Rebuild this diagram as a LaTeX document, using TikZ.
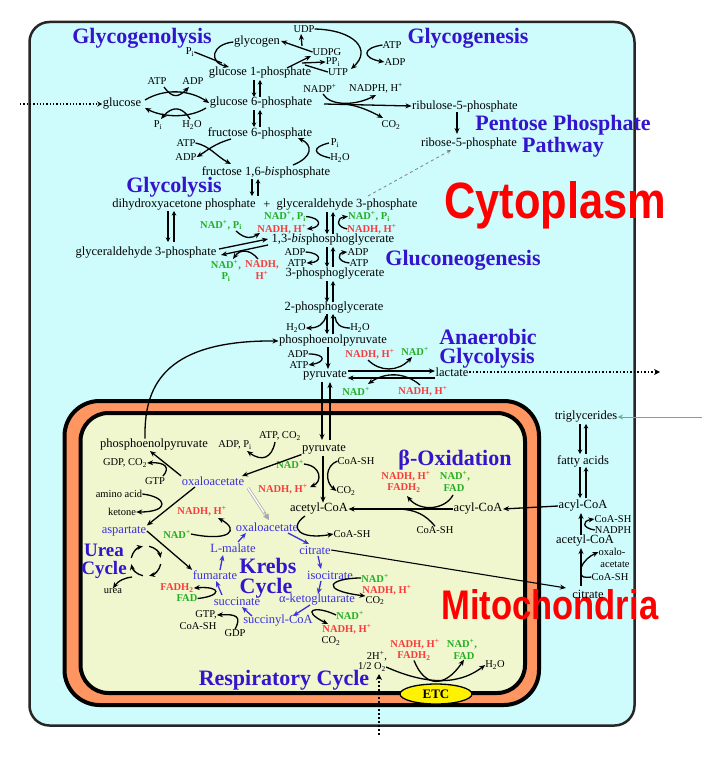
\documentclass[tikz,border=0pt]{standalone}
\usepackage{fontspec}
\setmainfont{Liberation Serif}
\newfontfamily\bigsans{Liberation Sans}
\usetikzlibrary{arrows.meta,shapes.geometric}
\definecolor{cyto}{RGB}{206,251,251}
\definecolor{orng}{RGB}{255,150,98}
\definecolor{mitoin}{RGB}{240,246,206}
\definecolor{ttlblue}{RGB}{52,20,205}
\definecolor{kblue}{RGB}{58,48,222}
\definecolor{rd}{RGB}{248,60,60}
\definecolor{gr}{RGB}{35,175,35}
\definecolor{tgarrow}{RGB}{100,175,150}
\newcommand{\fsz}[1]{\fontsize{#1}{#1}\selectfont}
\newcommand{\eqpair}[3]{%
  \draw[sarr] (#1-3,#2) -- (#1-3,#3);
  \draw[sarr] (#1+3,#3) -- (#1+3,#2);}
\tikzset{
  met/.style={font=\fsz{12.5}, inner sep=0.5pt},
  cof/.style={font=\fontsize{10.5}{11.5}\selectfont, inner sep=0pt, align=center},
  rcof/.style={cof, font=\fontsize{10.5}{11.5}\selectfont\bfseries, text=rd},
  gcof/.style={cof, font=\fontsize{10.5}{11.5}\selectfont\bfseries, text=gr},
  kmet/.style={met, text=kblue},
  ttl/.style={font=\fsz{22}\bfseries, text=ttlblue, inner sep=0pt},
  arr/.style={-{Stealth[length=6pt,width=5pt]}, line width=1.3pt},
  sarr/.style={-{Stealth[length=4.5pt,width=4.5pt]}, line width=1.2pt},
  barr/.style={arr, draw=kblue},
  ln/.style={line width=1.3pt},
}
\begin{document}
\begin{tikzpicture}[x=1pt,y=-1pt]
\useasboundingbox (0,0) rectangle (720,768);
\fill[white] (0,0) rectangle (720,768);
% compartments
\draw[line width=2.5pt, draw=black!85, fill=cyto, rounded corners=20pt] (29.5,22) rectangle (634.5,725.5);
\draw[line width=4pt, fill=orng, rounded corners=35pt] (64.5,401) rectangle (539,705);
\draw[line width=4pt, fill=mitoin, rounded corners=28pt] (80.5,413) rectangle (525,693);

% big labels
\node[anchor=base west, inner sep=0, text=red] (cytlbl) at (444,218) {\resizebox{222pt}{37pt}{\bigsans\bfseries Cytoplasm}};
\node[anchor=base west, inner sep=0, text=red] (mitlbl) at (441,619) {\resizebox{217pt}{30pt}{\bigsans\bfseries Mitochondria}};

% ---------- top: glycogen / glucose ----------
\node[ttl] (gnl) at (142,38) {Glycogenolysis};
\node[ttl] (gng) at (468,38) {Glycogenesis};
\node[met] (glycogen) at (257,42) {glycogen};
\node[cof] (udp) at (304,29) {UDP};
\node[cof] (udpg) at (327,52) {UDPG};
\node[cof] (ppi) at (333,62) {PP\textsubscript{i}};
\node[cof] (utp) at (338,72) {UTP};
\node[cof] (atpA) at (392,45) {ATP};
\node[cof] (adpA) at (395,62) {ADP};
\node[cof] (piA) at (190,52) {P\textsubscript{i}};
\node[met] (g1p) at (260,73) {glucose 1-phosphate};
\node[cof] (atpB) at (157,81) {ATP};
\node[cof] (adpB) at (193,81) {ADP};
\node[met] (glc) at (122,104) {glucose};
\node[met] (g6p) at (261,103) {glucose 6-phosphate};
\node[cof] (piB) at (158,125) {P\textsubscript{i}};
\node[cof] (h2oB) at (192,125) {H\textsubscript{2}O};
\node[met] (f6p) at (260,133) {fructose 6-phosphate};
\node[cof] (atpC) at (186,143) {ATP};
\node[cof] (adpC) at (186,157) {ADP};
\node[met] (f16) at (266,172) {fructose 1,6-\textit{bis}phosphate};
\node[cof] (piC) at (335,143) {P\textsubscript{i}};
\node[cof] (h2oC) at (340,158) {H\textsubscript{2}O};
\node[cof] (nadp) at (320,88) {NADP\textsuperscript{+}};
\node[cof] (nadph) at (376,88) {NADPH, H\textsuperscript{+}};
\node[cof] (co2A) at (391,125) {CO\textsubscript{2}};
\node[met] (ru5p) at (465,106) {ribulose-5-phosphate};
\node[met] (r5p) at (469,143) {ribose-5-phosphate};
\node[ttl] (ppp1) at (563,125) {Pentose Phosphate};
\node[ttl] (ppp2) at (563,147) {Pathway};

\draw[arr] (glycogen.west) .. controls (212,44) and (208,62) .. (229,67);
\draw[ln] (piA.east) -- (222,63);
\draw[arr] (udpg.west) -- (281,41);
\draw[arr] (302,46) -- (301,34);
\draw[arr] (287,68) -- (311,56);
\draw[arr] (302,63) -- (ppi.west);
\draw[ln] (utp.west) -- (305,65);
\draw[arr] (udp.east) .. controls (355,30) and (372,50) .. (351,69);
\draw[arr] (atpA.west) .. controls (362,48) and (362,58) .. (adpA.west);
\coordinate (glin) at (20,104);
\draw[dotted, line width=1.3pt, -{Stealth[length=5pt,width=5pt]}] (glin) -- (glc.west);
\draw[arr] (145,100) .. controls (165,88) and (190,90) .. (g6p.west);
\draw[arr] (164,87) .. controls (172,98) and (178,98) .. (189,87);
\draw[arr] (206,108) .. controls (188,119) and (162,117) .. (145,108);
\draw[arr] (190,119) .. controls (182,106) and (172,106) .. (161,119);
\eqpair{257}{80}{97}
\eqpair{257}{110}{127}
\draw[arr] (231,139) .. controls (214,144) and (208,150) .. (adpC.east);
\draw[arr] (atpC.east) .. controls (210,146) and (216,156) .. (231,164);
\draw[arr] (293,165) .. controls (313,157) and (313,145) .. (298,138);
\draw[ln] (h2oC.west) .. controls (312,154) and (312,147) .. (329,143);
\draw[arr] (324,104) -- (ru5p.west);
\draw[arr] (323,94) .. controls (330,106) and (355,106) .. (376,95);
\draw[arr] (345,104) .. controls (360,106) and (372,112) .. (383,118);
\draw[arr] (ru5p.south -| 457,0) -- (457,134);
\coordinate (dsh) at (368,196);
\draw[dashed, draw=gray, line width=0.8pt, -{Stealth[length=4pt,width=4pt]}] (dsh) -- (451,150);

% ---------- glycolysis ----------
\node[ttl] (glyc) at (174,187) {Glycolysis};
\node[met] (dhap) at (184,205) {dihydroxyacetone phosphate};
\node[met] (plus) at (267,205) {+};
\node[met] (g3p) at (347,205) {glyceraldehyde 3-phosphate};
\node[met] (g3pl) at (146,253) {glyceraldehyde 3-phosphate};
\node[met] (bpg) at (333,240) {1,3-\textit{bis}phosphoglycerate};
\node[met] (pg3) at (335,274) {3-phosphoglycerate};
\node[met] (pg2) at (334,308) {2-phosphoglycerate};
\node[met] (pep) at (333,341) {phosphoenolpyruvate};
\node[met] (pyr) at (325,375) {pyruvate};
\node[met] (lac) at (452,372) {lactate};
\node[ttl] (gluc) at (463,260) {Gluconeogenesis};
\node[ttl] (anae1) at (488,337) {Anaerobic};
\node[ttl] (anae2) at (487,358) {Glycolysis};

\node[gcof] (nadpiA) at (221,225) {NAD\textsuperscript{+}, P\textsubscript{i}};
\node[gcof] (nadpiB) at (285,216.5) {NAD\textsuperscript{+}, P\textsubscript{i}};
\node[rcof] (nadhB) at (282,229) {NADH, H\textsuperscript{+}};
\node[gcof] (nadpiC) at (369,216.5) {NAD\textsuperscript{+}, P\textsubscript{i}};
\node[rcof] (nadhC) at (372,229) {NADH, H\textsuperscript{+}};
\node[gcof] (nadpiD) at (226,271) {NAD\textsuperscript{+},\\P\textsubscript{i}};
\node[rcof] (nadhD) at (262,270) {NADH,\\H\textsuperscript{+}};
\node[cof] (adpD) at (295,252) {ADP};
\node[cof] (atpD) at (297,263) {ATP};
\node[cof] (adpE) at (358,252) {ADP};
\node[cof] (atpE) at (359,263) {ATP};
\node[cof] (h2oF) at (296,328) {H\textsubscript{2}O};
\node[cof] (h2oG) at (360,328) {H\textsubscript{2}O};
\node[cof] (adpH) at (298,354) {ADP};
\node[cof] (atpH) at (299,365) {ATP};
\node[rcof] (nadhI) at (370,354) {NADH, H\textsuperscript{+}};
\node[gcof] (nadI) at (415,351) {NAD\textsuperscript{+}};
\node[gcof] (nadJ) at (356,391) {NAD\textsuperscript{+}};
\node[rcof] (nadhJ) at (423,391) {NADH, H\textsuperscript{+}};

\eqpair{255}{179}{196}
\eqpair{171}{211}{242}
\eqpair{330}{212}{234}
\eqpair{330}{247}{267}
\eqpair{330}{281}{302}
\eqpair{330}{314}{334}
\draw[arr] (219,249) -- (268,239);
\draw[arr] (268,245) -- (221,255);
\draw[arr] (236,231) .. controls (246,240) and (252,238) .. (260,233);
\draw[arr] (258,259) .. controls (250,249) and (240,249) .. (233,259);
\draw[arr] (nadpiB.east) .. controls (322,218) and (322,227) .. (nadhB.east);
\draw[arr] (nadhC.west) .. controls (336,227) and (336,218) .. (nadpiC.west);
\draw[arr] (adpD.east) .. controls (322,253) and (322,262) .. (atpD.east);
\draw[arr] (atpE.west) .. controls (337,262) and (337,253) .. (adpE.west);
\draw[arr] (326,316) .. controls (324,324) and (318,328) .. (h2oF.east);
\draw[ln] (h2oG.west) .. controls (340,328) and (336,324) .. (335,317);
\draw[arr] (328,347) -- (328,369);
\draw[arr] (adpH.east) .. controls (326,354) and (326,362) .. (atpH.east);
\draw[arr] (pyr.east |- 0,371) -- (lac.west |- 0,371);
\draw[arr] (lac.west |- 0,378) -- (pyr.east |- 0,378);
\draw[arr] (368,360) .. controls (380,372) and (398,372) .. (412,357);
\draw[arr] (420,385) .. controls (405,372) and (385,372) .. (368,384);
\coordinate (lacout) at (660,372);
\draw[dotted, line width=1.5pt, -{Stealth[length=6pt,width=6pt]}] (lac.east) -- (lacout);

% ---------- mitochondrion ----------
\node[met] (pepm) at (154,445) {phosphoenolpyruvate};
\node[cof] (adpK) at (235,445) {ADP, P\textsubscript{i}};
\node[cof] (gdpK) at (125,463) {GDP, CO\textsubscript{2}};
\node[cof] (gtpK) at (155,481) {GTP};
\node[kmet] (oaa1) at (213,481) {oxaloacetate};
\node[cof] (amino) at (119,494) {amino acid};
\node[cof] (ketone) at (122,512) {ketone};
\node[rcof] (nadhL) at (202,511) {NADH, H\textsuperscript{+}};
\node[kmet] (asp) at (124,531) {aspartate};
\node[gcof] (nadL) at (177,534) {NAD\textsuperscript{+}};
\node[kmet] (oaa2) at (267,527) {oxaloacetate};
\node[kmet] (mal) at (233,548) {L-malate};
\node[ttl, font=\fsz{19}\bfseries] (urea1) at (104,550) {Urea};
\node[ttl, font=\fsz{19}\bfseries] (urea2) at (104,570) {Cycle};
\node[kmet] (fum) at (215,575) {fumarate};
\node[cof] (urea) at (113,591) {urea};
\node[rcof] (fadh) at (177,588) {FADH\textsubscript{2}};
\node[gcof] (fad) at (187,598.5) {FAD};
\node[kmet] (succ) at (237,601) {succinate};
\node[cof] (gtpM) at (206,615) {GTP,};
\node[cof] (coaM) at (198,626) {CoA-SH};
\node[cof] (gdpM) at (235,633) {GDP};
\node[cof] (atpco2) at (280,436) {ATP, CO\textsubscript{2}};
\node[met] (pyrm) at (324,449) {pyruvate};
\node[gcof] (nadN) at (290,464) {NAD\textsuperscript{+}};
\node[cof] (coaN) at (356,461) {CoA-SH};
\node[rcof] (nadhN) at (283,489) {NADH, H\textsuperscript{+}};
\node[cof] (co2N) at (346,491) {CO\textsubscript{2}};
\node[met] (acoa) at (319,509) {acetyl-CoA};
\node[cof] (coaO) at (352,534) {CoA-SH};
\node[ttl] (boxid) at (455,460) {β-Oxidation};
\node[rcof] (nadhP) at (406,476) {NADH, H\textsuperscript{+}};
\node[rcof] (fadhP) at (404,488) {FADH\textsubscript{2}};
\node[gcof] (nadP) at (455,476) {NAD\textsuperscript{+},};
\node[gcof] (fadP) at (454,488.5) {FAD};
\node[met] (acylm) at (478,509) {acyl-CoA};
\node[cof] (coaP) at (435,530) {CoA-SH};
\node[ttl] (krebs1) at (268,566) {Krebs};
\node[ttl] (krebs2) at (266,588) {Cycle};
\node[kmet] (cit) at (315,550) {citrate};
\node[kmet] (iso) at (330,575) {isocitrate};
\node[gcof] (nadQ) at (375,578) {NAD\textsuperscript{+}};
\node[rcof] (nadhQ) at (387,590) {NADH, H\textsuperscript{+}};
\node[cof] (co2Q) at (375,600.5) {CO\textsubscript{2}};
\node[kmet] (akg) at (317,600) {α-ketoglutarate};
\node[kmet] (sucoa) at (278,621) {succinyl-CoA};
\node[gcof] (nadR) at (350,615) {NAD\textsuperscript{+}};
\node[rcof] (nadhR) at (347,629) {NADH, H\textsuperscript{+}};
\node[cof] (co2R) at (331,641) {CO\textsubscript{2}};
\node[cof] (h2plus) at (377,656) {2H\textsuperscript{+},};
\node[cof] (o2) at (372,667) {1/2 O\textsubscript{2}};
\node[ttl] (resp) at (284,680) {Respiratory Cycle};
\node[rcof] (nadhS) at (415,644) {NADH, H\textsuperscript{+}};
\node[rcof] (fadhS) at (414,656) {FADH\textsubscript{2}};
\node[gcof] (nadS) at (462,644) {NAD\textsuperscript{+},};
\node[gcof] (fadS) at (464,656) {FAD};
\node[cof] (h2oS) at (495,665) {H\textsubscript{2}O};

% mito connectors
\draw[arr] (pepm.north -| 145,0) .. controls (144,390) and (160,340) .. (pep.west);
\draw[arr] (322,382) -- (322,440);
\draw[arr] (330,440) -- (330,382);
\draw[arr] (oaa1.north west) -- (150,451);
\draw[arr] (163,476) .. controls (170,468) and (166,462) .. (gdpK.east);
\draw[arr] (pyrm.south west) -- (242,476);
\draw[arr] (275,442) .. controls (272,458) and (262,462) .. (247,451);
\draw[arr] (195,487) -- (asp.north east);
\draw[arr] (amino.east) .. controls (168,497) and (170,512) .. (ketone.east);
\draw[draw=gray!70, double=white, double distance=1.5pt, line width=0.7pt] (248,488) -- (265,514);
\draw[gray!70, line width=0.7pt, -{Triangle[length=6pt,width=6pt]}] (264,512) -- (269,520);
\draw[arr] (323,456) -- (acoa.north -| 323,0);
\draw[arr] (nadN.east) .. controls (322,466) and (322,482) .. (310,487);
\draw[arr] (coaN.west) .. controls (325,466) and (325,482) .. (co2N.west);
\draw[arr] (acylm.west) -- (acoa.east);
\draw[ln] (coaP.north) .. controls (425,514) and (415,510) .. (400,509);
\draw[arr] (453,495) .. controls (445,510) and (420,512) .. (407,496);
\draw[arr] (305,516) .. controls (288,528) and (300,540) .. (coaO.west);
\draw[barr] (288,533) -- (309,544);
\draw[barr] (318,556) -- (321,569);
\draw[arr, line width=1.1pt] (cit.east) -- (566,588);
\draw[barr] (321,581) -- (318,594);
\draw[arr] (nadQ.west) .. controls (330,578) and (318,590) .. (co2Q.north west);
\draw[barr] (310,605) -- (293,616);
\draw[arr] (nadR.west) .. controls (315,605) and (300,610) .. (328,624);
\draw[barr] (252,616) -- (242,607);
\draw[arr] (gdpM.north) .. controls (242,616) and (236,614) .. (gtpM.east);
\draw[barr] (222,595) -- (216,581);
\draw[arr] (fad.east) .. controls (222,596) and (222,586) .. (fadh.east);
\draw[barr] (220,570) -- (223,555);
\draw[barr] (238,542) -- (246,533);
\draw[arr] (nadL.east) .. controls (230,542) and (240,530) .. (218,518);
% urea cycle
\draw[arr] (149.1,546.3) .. controls (154.9,547.5) and (159.5,552.1) .. (160.7,557.9);
\draw[arr] (160.7,564.1) .. controls (159.5,569.9) and (154.9,574.5) .. (149.1,575.7);
\draw[arr] (142.9,575.7) .. controls (137.1,574.5) and (132.5,569.9) .. (131.3,564.1);
\draw[arr] (131.3,557.9) .. controls (132.5,552.1) and (137.1,547.5) .. (142.9,546.3);
\draw[arr] (132,577) .. controls (124,578) and (118,581) .. (urea.north);
\draw[arr] (asp.east) -- (fum.north west);
% ETC
\node[ellipse, draw, line width=1.3pt, fill=yellow, minimum width=72pt, minimum height=20pt, inner sep=0pt, font=\fsz{13}\bfseries] (etc) at (436,694) {ETC};
\draw[arr] (o2.east) .. controls (420,682) and (455,688) .. (h2oS.west);
\draw[arr] (fadhS.south) .. controls (425,688) and (445,688) .. (fadS.south);
\coordinate (o2in) at (379,735);
\draw[dotted, line width=2pt, -{Stealth[length=6pt,width=6pt]}] (o2in) -- (379,674);

% ---------- cytoplasm lipid side ----------
\node[met] (tg) at (586,417) {triglycerides};
\node[met] (fa) at (583,461) {fatty acids};
\node[met] (acylc) at (583,506) {acyl-CoA};
\node[cof] (coaT) at (613,519) {CoA-SH};
\node[cof] (nadphT) at (613,530) {NADPH};
\node[met] (acoac) at (585,541) {acetyl-CoA};
\node[cof] (oxalo) at (612,552) {oxalo-};
\node[cof] (acet) at (615,565) {acetate};
\node[cof] (coaU) at (610,577) {CoA-SH};
\node[met] (citc) at (588,594) {citrate};
\coordinate (tgin) at (702,417);
\draw[draw=tgarrow, line width=0.9pt, -{Stealth[length=5pt,width=5pt]}] (tgin) -- (tg.east);
\eqpair{583}{424}{454}
\eqpair{583}{467}{498}
\draw[arr] (acylc.west) -- (acylm.east);
\draw[arr] (581,535) -- (581,513);
\draw[arr] (nadphT.west) .. controls (582,528) and (582,521) .. (coaT.west);
\draw[arr] (581,586) -- (581,548);
\draw[arr] (581,568) .. controls (584,560) and (590,556) .. (oxalo.west);
\draw[ln] (coaU.west) .. controls (584,578) and (581,577) .. (581,573);
\end{tikzpicture}
\end{document}
